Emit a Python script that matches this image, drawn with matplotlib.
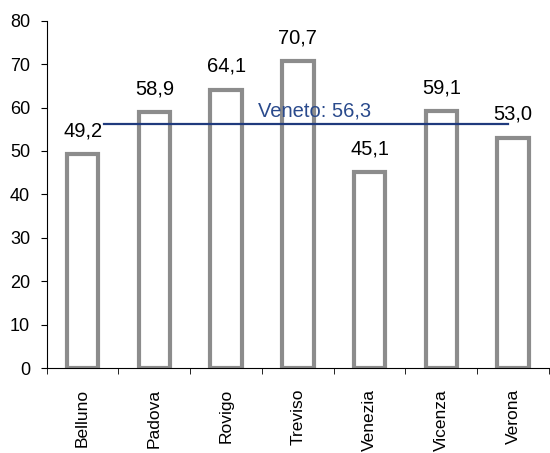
import matplotlib.pyplot as plt
import numpy as np

plt.rcParams['font.family'] = ['Liberation Sans', 'DejaVu Sans']

# province values
provinces = ['Belluno', 'Padova', 'Rovigo', 'Treviso', 'Venezia', 'Vicenza', 'Verona']
values = [49.2, 58.9, 64.1, 70.7, 45.1, 59.1, 53.0]
veneto = 56.3

fig = plt.figure(figsize=(5.5, 4.53), dpi=100)
ax = fig.add_axes([0.085, 0.1876, 0.913, 0.7667])

x = np.arange(len(provinces))
ax.bar(x, values, width=0.44, facecolor='white', edgecolor='#8c8c8c', linewidth=3)

for xi, v in zip(x, values):
    ax.annotate(f'{v:.1f}'.replace('.', ','), (xi, v), xytext=(0, 13),
                textcoords='offset points', ha='center', va='baseline', fontsize=14.5)

# regional average
ax.plot([0.3, 5.93], [veneto, veneto], color='#1f3a7d', linewidth=1.6)
ax.text(3.24, veneto + 1.7, 'Veneto: ' + f'{veneto:.1f}'.replace('.', ','),
        color='#2a4a8c', fontsize=14.5, ha='center', va='baseline')

ax.set_xlim(-0.5, len(provinces) - 0.5)
ax.set_ylim(0, 80)
ax.set_yticks(range(0, 81, 10))
ax.tick_params(axis='y', labelsize=13, length=4.5, direction='out', pad=7.5)

ax.set_xticks(x)
ax.set_xticklabels(provinces, rotation=90, fontsize=12.5)
ax.set_xticks(np.arange(-0.5, len(provinces), 1), minor=True)
ax.tick_params(axis='x', which='major', length=0, pad=15)
ax.tick_params(axis='x', which='minor', length=4.5, direction='out')

for side in ['top', 'right']:
    ax.spines[side].set_visible(False)

fig.savefig('out.png', dpi=100)
